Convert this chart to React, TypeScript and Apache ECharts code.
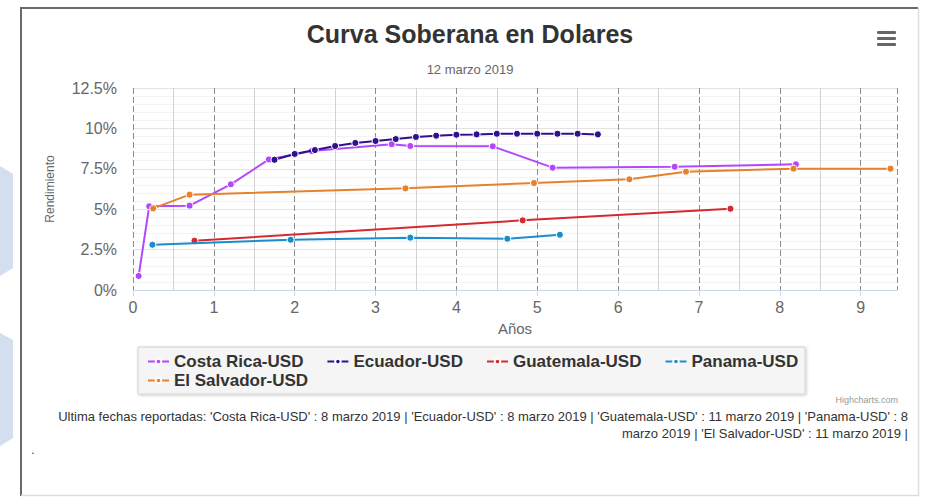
import React, { useEffect, useRef } from "react";
import * as echarts from "echarts";

const FONT = "'Liberation Sans', Arial, Helvetica, sans-serif";

const seriesNames = ["Costa Rica-USD", "Ecuador-USD", "Guatemala-USD", "Panama-USD", "El Salvador-USD"];
const seriesColors = ["#b347ff", "#2f108f", "#d42a2f", "#1b8dcc", "#e5822e"];

const crYears = [0.07, 0.2, 0.7, 1.21, 1.68, 2.21, 3.2, 3.43, 4.45, 5.19, 6.7, 8.2];
const crYields = [0.87, 5.18, 5.22, 6.54, 8.08, 8.6, 9.02, 8.91, 8.89, 7.57, 7.63, 7.78];

const ecYears = [1.75, 2.0, 2.25, 2.5, 2.75, 3.0, 3.25, 3.5, 3.75, 4.0, 4.25, 4.5, 4.75, 5.0, 5.25, 5.5, 5.75];
const ecYields = [8.06, 8.42, 8.66, 8.91, 9.1, 9.22, 9.34, 9.47, 9.55, 9.61, 9.63, 9.67, 9.67, 9.67, 9.67, 9.67, 9.63];

const gtYears = [0.76, 4.82, 7.39];
const gtYields = [3.05, 4.31, 5.03];

const paYears = [0.24, 1.95, 3.43, 4.63, 5.28];
const paYields = [2.8, 3.11, 3.24, 3.17, 3.42];

const svYears = [0.25, 0.7, 3.37, 4.96, 6.14, 6.84, 8.17, 9.37];
const svYields = [5.05, 5.9, 6.29, 6.62, 6.85, 7.32, 7.51, 7.51];

const allYears = [crYears, ecYears, gtYears, paYears, svYears];
const allYields = [crYields, ecYields, gtYields, paYields, svYields];

const titleText = "Curva Soberana en Dolares";
const subtitleText = "12 marzo 2019";
const xName = "Años";
const yName = "Rendimiento";
const footLine1 =
  "Ultima fechas reportadas: 'Costa Rica-USD' : 8 marzo 2019 | 'Ecuador-USD' : 8 marzo 2019 | 'Guatemala-USD' : 11 marzo 2019 | 'Panama-USD' : 8";
const footLine2 = "marzo 2019 | 'El Salvador-USD' : 11 marzo 2019 |";
const creditText = "Highcharts.com";

export default function App() {
  const ref = useRef<HTMLDivElement>(null);

  useEffect(() => {
    document.body.style.margin = "0";
    if (!ref.current) return;
    const chart = echarts.init(ref.current, null, { renderer: "svg" });

    const series = seriesNames.map((name, i) => ({
      name,
      type: "line",
      data: allYears[i].map((x, j) => [x, allYields[i][j]]),
      symbol: "circle",
      symbolSize: 7,
      showSymbol: true,
      lineStyle: { width: 2, color: seriesColors[i] },
      itemStyle: { color: seriesColors[i], borderColor: "#ffffff", borderWidth: 1 },
      z: 3 + i,
    }));

    const legendText = { fontSize: 17, fontWeight: "bold", color: "#333333", fontFamily: FONT };

    chart.setOption({
      animation: false,
      textStyle: { fontFamily: FONT },
      title: [
        {
          text: titleText,
          left: "center",
          top: 16,
          textStyle: { fontSize: 25, fontWeight: "bold", color: "#333333", fontFamily: FONT },
        },
        {
          text: subtitleText,
          left: "center",
          top: 58,
          textStyle: { fontSize: 13, fontWeight: "normal", color: "#666666", fontFamily: FONT },
        },
      ],
      grid: { left: 133, right: 43, top: 88, bottom: 208, containLabel: false },
      legend: [
        {
          data: seriesNames.slice(0, 4),
          left: 147,
          top: 353,
          orient: "horizontal",
          itemWidth: 21,
          itemHeight: 7,
          itemGap: 23,
          padding: 0,
          textStyle: legendText,
          z: 10,
        },
        {
          data: seriesNames.slice(4),
          left: 147,
          top: 372,
          orient: "horizontal",
          itemWidth: 21,
          itemHeight: 7,
          itemGap: 23,
          padding: 0,
          textStyle: legendText,
          z: 10,
        },
      ],
      xAxis: {
        type: "value",
        min: 0,
        max: 9.45,
        interval: 1,
        name: xName,
        nameLocation: "middle",
        nameGap: 31,
        nameTextStyle: { fontSize: 15, color: "#666666", fontFamily: FONT },
        axisLine: { show: true, lineStyle: { color: "#ccd6eb", width: 1 } },
        axisTick: { show: true, length: 6, lineStyle: { color: "#ccd6eb" } },
        axisLabel: {
          fontSize: 16,
          color: "#666666",
          margin: 9,
          showMaxLabel: false,
          formatter: (v: number) => String(v),
        },
        splitLine: { show: true, lineStyle: { color: "#8c8c8c", type: [6, 3], width: 1 } },
        minorTick: { show: false, splitNumber: 2 },
        minorSplitLine: { show: true, lineStyle: { color: "#d3d3d3", width: 1 } },
      },
      yAxis: {
        type: "value",
        min: 0,
        max: 12.5,
        interval: 2.5,
        name: yName,
        nameLocation: "middle",
        nameRotate: 90,
        nameGap: 77,
        nameTextStyle: { fontSize: 12, color: "#666666", fontFamily: FONT },
        axisLine: { show: false },
        axisTick: { show: false },
        axisLabel: {
          fontSize: 16,
          color: "#666666",
          margin: 16,
          formatter: (v: number) => v + "%",
        },
        splitLine: { show: true, lineStyle: { color: "#e3e3e3", width: 1 } },
        minorTick: { show: false, splitNumber: 5 },
        minorSplitLine: { show: true, lineStyle: { color: "#f3f3f3", width: 1 } },
      },
      graphic: [
        { type: "polygon", shape: { points: [[0, 166], [13, 174], [13, 268], [0, 276]] }, style: { fill: "#d3deee" }, z: 0 },
        { type: "polygon", shape: { points: [[0, 333], [13, 340], [13, 438], [0, 446]] }, style: { fill: "#d3deee" }, z: 0 },
        { type: "line", shape: { x1: 21, y1: 8, x2: 918, y2: 8 }, style: { stroke: "#6a6a6a", lineWidth: 2 }, z: 1 },
        { type: "line", shape: { x1: 21, y1: 7, x2: 21, y2: 496 }, style: { stroke: "#6a6a6a", lineWidth: 2 }, z: 1 },
        { type: "line", shape: { x1: 918.5, y1: 8, x2: 918.5, y2: 496 }, style: { stroke: "#dddddd", lineWidth: 1.5 }, z: 1 },
        { type: "line", shape: { x1: 21, y1: 495.5, x2: 919, y2: 495.5 }, style: { stroke: "#dddddd", lineWidth: 1.5 }, z: 1 },
        { type: "rect", shape: { x: 877, y: 31, width: 19, height: 3, r: 1 }, style: { fill: "#666666" }, z: 1 },
        { type: "rect", shape: { x: 877, y: 37, width: 19, height: 3, r: 1 }, style: { fill: "#666666" }, z: 1 },
        { type: "rect", shape: { x: 877, y: 43, width: 19, height: 3, r: 1 }, style: { fill: "#666666" }, z: 1 },
        {
          type: "rect",
          shape: { x: 138, y: 347, width: 667, height: 47 },
          style: {
            fill: "#f5f5f5",
            stroke: "#d2d2d2",
            lineWidth: 1,
            shadowBlur: 3,
            shadowOffsetX: 1,
            shadowOffsetY: 1,
            shadowColor: "rgba(0,0,0,0.2)",
          },
          z: 1,
        },
        {
          type: "text",
          x: 898,
          y: 400,
          style: { text: creditText, fill: "#999999", font: "9px " + FONT, textAlign: "right", textVerticalAlign: "middle" },
          z: 1,
        },
        {
          type: "text",
          x: 908,
          y: 416,
          style: { text: footLine1, fill: "#333333", font: "13px " + FONT, textAlign: "right", textVerticalAlign: "middle" },
          z: 1,
        },
        {
          type: "text",
          x: 908,
          y: 433,
          style: { text: footLine2, fill: "#333333", font: "13px " + FONT, textAlign: "right", textVerticalAlign: "middle" },
          z: 1,
        },
        {
          type: "text",
          x: 33,
          y: 450,
          style: { text: ".", fill: "#333333", font: "12px " + FONT, textAlign: "center", textVerticalAlign: "middle" },
          z: 1,
        },
      ],
      series,
    });

    return () => chart.dispose();
  }, []);

  return <div ref={ref} style={{ width: 940, height: 498 }} />;
}
